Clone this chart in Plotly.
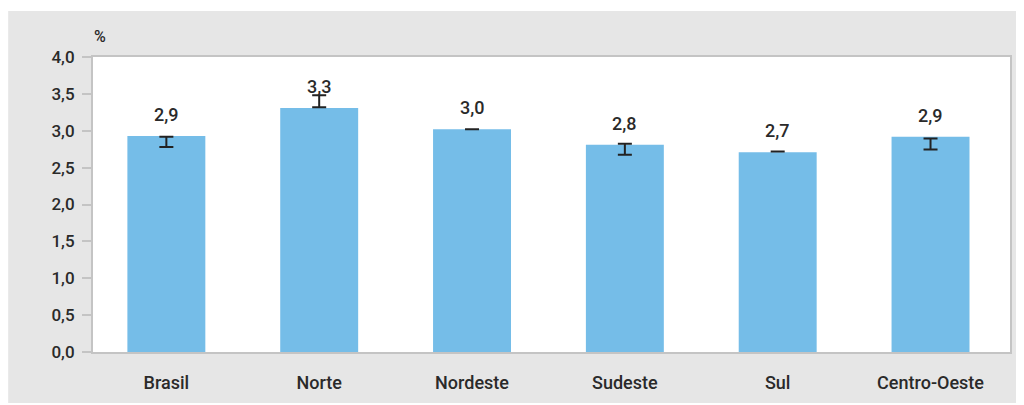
import plotly.graph_objects as go

categories = ["Brasil", "Norte", "Nordeste", "Sudeste", "Sul", "Centro-Oeste"]
values = [2.93, 3.31, 3.02, 2.81, 2.71, 2.92]
err_center = [2.85, 3.40, 3.02, 2.75, 2.72, 2.82]
err_half = [0.07, 0.08, 0.0, 0.075, 0.0, 0.075]
y_ticks = [0, 0.5, 1.0, 1.5, 2.0, 2.5, 3.0, 3.5, 4.0]

FONT = "Liberation Sans Narrow, Arial Narrow, Roboto, sans-serif"
TXT = "#2a2a2a"
WEIGHT = 500
W, H = 1012, 395
ML, MR, MT, MB = 85, 8, 49, 51
PW, PH = W - ML - MR, H - MT - MB

fig = go.Figure()
fig.add_trace(go.Bar(
    x=categories, y=values, marker=dict(color="#75bde8", line=dict(width=0)),
    hoverinfo="skip", showlegend=False,
))
fig.add_trace(go.Scatter(
    x=categories, y=err_center, mode="markers",
    marker=dict(size=1, opacity=0),
    error_y=dict(type="data", array=err_half, symmetric=True,
                 color="#222222", thickness=2, width=7),
    hoverinfo="skip", showlegend=False,
))

for c, v in zip(categories, values):
    fig.add_annotation(x=c, y=v, text=f"{v:.1f}".replace(".", ","),
                       showarrow=False, yanchor="bottom", yshift=9,
                       font=dict(family=FONT, size=18, color=TXT, weight=WEIGHT))


def px_to_paper_x(px):
    return (px - ML) / PW


def px_to_paper_y(py):
    return (MT + PH - py) / PH


fig.add_annotation(xref="paper", yref="paper", x=px_to_paper_x(92), y=px_to_paper_y(29),
                   text="%", showarrow=False, xanchor="center", yanchor="middle",
                   font=dict(family=FONT, size=16, color=TXT, weight=WEIGHT))

# gray frame and white plot area
fig.add_shape(type="rect", xref="paper", yref="paper", layer="below",
              x0=px_to_paper_x(0), x1=px_to_paper_x(W),
              y0=px_to_paper_y(H), y1=px_to_paper_y(3),
              fillcolor="#e6e6e6", line=dict(width=0))
fig.add_shape(type="rect", xref="paper", yref="paper", layer="below",
              x0=0, x1=1, y0=0, y1=1, fillcolor="white", line=dict(width=0))

fig.update_layout(
    width=W, height=H,
    margin=dict(l=ML, r=MR, t=MT, b=MB),
    paper_bgcolor="white", plot_bgcolor="white",
    separators=",.",
    bargap=0.49,
    font=dict(family=FONT, color=TXT),
)
fig.update_xaxes(
    range=[-0.48, 5.52],
    showline=True, linecolor="#c4c4c4", linewidth=2, mirror=True,
    ticks="", showgrid=False, ticklabelstandoff=13,
    tickfont=dict(family=FONT, size=18, color=TXT, weight=WEIGHT),
)
fig.update_yaxes(
    range=[0, 4], tickvals=y_ticks, tickformat=".1f",
    showline=True, linecolor="#c4c4c4", linewidth=2, mirror=True,
    ticks="outside", ticklen=9, tickwidth=2, tickcolor="#c4c4c4",
    showgrid=False, zeroline=False, ticklabelstandoff=4,
    tickfont=dict(family=FONT, size=17, color=TXT, weight=WEIGHT),
)

fig.write_html("out.html")
